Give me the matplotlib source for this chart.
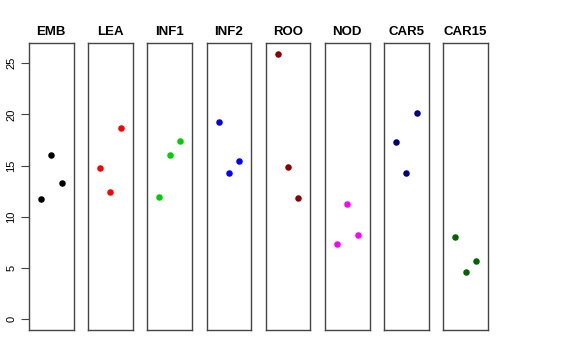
import matplotlib
matplotlib.use("Agg")
import matplotlib.pyplot as plt

plt.rcParams['font.family'] = ['Liberation Sans', 'DejaVu Sans']

tissues = ['EMB', 'LEA', 'INF1', 'INF2', 'ROO', 'NOD', 'CAR5', 'CAR15']
colors = ['black', 'red', '#00CD00', 'blue', '#8B0000', 'magenta', '#000080', '#006400']
reps = [1, 2, 3]
values = [
    [11.77, 16.05, 13.36],
    [14.79, 12.41, 18.71],
    [11.99, 16.01, 17.41],
    [19.26, 14.30, 15.43],
    [25.94, 14.88, 11.80],
    [7.39, 11.31, 8.23],
    [17.28, 14.33, 20.14],
    [8.07, 4.63, 5.74],
]

ymax = max(max(v) for v in values)
ylo, yhi = 0 - 0.04 * ymax, ymax * 1.04
xlo, xhi = 0 - 0.16, 4 + 0.16

fig = plt.figure(figsize=(5.76, 3.6), dpi=100)
W, H = 576.0, 360.0
left0 = 29.0
step = 59.2
pw = 44.5
top, bottom = 43.0, 330.0

for i, (name, col, vals) in enumerate(zip(tissues, colors, values)):
    x0 = left0 + i * step
    ax = fig.add_axes([x0 / W, (H - bottom) / H, pw / W, (bottom - top) / H])
    ax.scatter(reps, vals, color=col, s=22, zorder=3, linewidths=0)
    ax.set_xlim(xlo, xhi)
    ax.set_ylim(ylo, yhi)
    ax.set_xticks([])
    for sp in ax.spines.values():
        sp.set_color('#444444')
        sp.set_linewidth(1.0)
    ax.set_title(name, fontsize=9.5, fontweight='bold', pad=6)
    if i == 0:
        ax.set_yticks([0, 5, 10, 15, 20, 25])
        ax.tick_params(axis='y', length=6, width=0.8, labelsize=8, pad=3,
                       color='#444444')
        for lab in ax.get_yticklabels():
            lab.set_rotation(90)
            lab.set_va('center')
    else:
        ax.set_yticks([])

fig.savefig('out.png', dpi=100)
